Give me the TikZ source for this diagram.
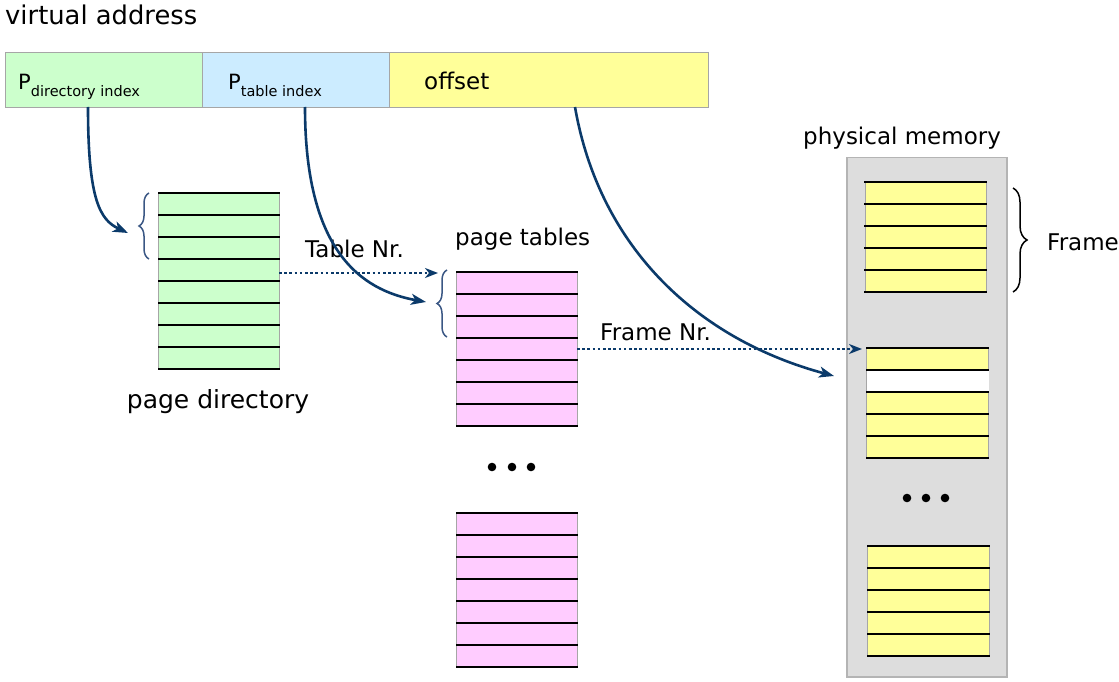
\documentclass[tikz,border=0pt]{standalone}
\usepackage{fontspec}
\setmainfont{DejaVu Sans}
\usetikzlibrary{arrows.meta,decorations.pathreplacing,calc}
\definecolor{cgreen}{HTML}{CCFFCC}
\definecolor{cblue}{HTML}{CCECFF}
\definecolor{cyellow}{HTML}{FFFF99}
\definecolor{cpink}{HTML}{FFCCFF}
\definecolor{cmem}{HTML}{DDDDDD}
\definecolor{cmemborder}{HTML}{B4B4B4}
\definecolor{cborder}{HTML}{A6A6A6}
\definecolor{cnavy}{HTML}{0B3A6A}
\definecolor{cbrace}{HTML}{3A5784}
\begin{document}
\begin{tikzpicture}[x=1pt,y=-1pt,
  lbl/.style={inner sep=0pt, anchor=base west, font=\fontsize{23}{27}\selectfont},
  barcell/.style={draw=cborder, line width=1pt, inner sep=0pt, anchor=north west, minimum height=55pt},
  tbl/.style={draw=cborder, line width=1.3pt, inner sep=0pt, anchor=north west},
  rowline/.style={draw=black, line width=1.5pt},
  arr/.style={draw=cnavy, line width=2.6pt, -{Stealth[length=15pt,width=11pt,inset=4pt]}},
  dotarr/.style={draw=cnavy, line width=2.8pt, dash pattern=on 2.6pt off 2.6pt, -{Stealth[length=13pt,width=10pt,inset=4pt]}},
  bracestyle/.style={decorate, decoration={brace, amplitude=10pt}, line width=1.5pt}
]
\useasboundingbox (0,0) rectangle (1119,682);

% virtual address bar
\node[lbl, font=\fontsize{25.8}{30}\selectfont] (vatitle) at (5,25) {virtual address};
\node[barcell, fill=cgreen, minimum width=197pt] (vd) at (5,52) {};
\node[barcell, fill=cblue, minimum width=187pt] (vt) at (202,52) {};
\node[barcell, fill=cyellow, minimum width=319pt] (vo) at (389,52) {};
\node[lbl, font=\fontsize{21}{25}\selectfont] (pdir) at (18,90) {P\raisebox{-7pt}{\fontsize{14.5}{17}\selectfont directory index}};
\node[lbl, font=\fontsize{21}{25}\selectfont] (ptab) at (228,90) {P\raisebox{-7pt}{\fontsize{14.5}{17}\selectfont table index}};
\node[lbl] (off) at (424,90) {offset};

% page directory
\node[tbl, fill=cgreen, minimum width=121pt, minimum height=176pt] (pd) at (158,193) {};
\foreach \i in {0,...,8} \draw[rowline] ($(pd.north west)+(0,\i*22)$) -- ($(pd.north east)+(0,\i*22)$);
\node[inner sep=0pt, anchor=base, font=\fontsize{25}{29}\selectfont] (pdlbl) at (218,408) {page directory};

% page tables
\node[lbl] (ptlbl) at (455,245) {page tables};
\node[tbl, fill=cpink, minimum width=121pt, minimum height=154pt] (pt1) at (456,272) {};
\foreach \i in {0,...,7} \draw[rowline] ($(pt1.north west)+(0,\i*22)$) -- ($(pt1.north east)+(0,\i*22)$);
\node[tbl, fill=cpink, minimum width=121pt, minimum height=154pt] (pt2) at (456,513) {};
\foreach \i in {0,...,7} \draw[rowline] ($(pt2.north west)+(0,\i*22)$) -- ($(pt2.north east)+(0,\i*22)$);
\foreach \x in {492,512,531} \fill (\x,467) circle (4.3pt);

% physical memory
\node[lbl] (pmlbl) at (803,145) {physical memory};
\node[draw=cmemborder, fill=cmem, line width=1.5pt, inner sep=0pt, anchor=north west, minimum width=160pt, minimum height=519pt] (mem) at (846,157) {};
\node[tbl, fill=cyellow, minimum width=121pt, minimum height=110pt] (f1) at (865,182) {};
\foreach \i in {0,...,5} \draw[rowline] ($(f1.north west)+(-1,\i*22)$) -- ($(f1.north east)+(0,\i*22)$);
\node[tbl, fill=cyellow, minimum width=122pt, minimum height=110pt] (f2) at (866,348) {};
\fill[white] ($(f2.north west)+(0.7,22)$) rectangle ($(f2.north east)+(-0.7,44)$);
\foreach \i in {0,...,5} \draw[rowline] ($(f2.north west)+(0,\i*22)$) -- ($(f2.north east)+(0,\i*22)$);
\node[tbl, fill=cyellow, minimum width=122pt, minimum height=110pt] (f3) at (867,546) {};
\foreach \i in {0,...,5} \draw[rowline] ($(f3.north west)+(0,\i*22)$) -- ($(f3.north east)+(0,\i*22)$);
\foreach \x in {907,926,945} \fill (\x,498) circle (4.3pt);
\node[lbl] (framelbl) at (1047,250) {Frame};

% braces
\draw[bracestyle, draw=cbrace] (149,259) -- (149,193);
\draw[bracestyle, draw=cbrace] (447,337) -- (447,270);
\draw[bracestyle, draw=black, decoration={brace, amplitude=14pt}] (1013,188) -- (1013,292);

% labels on connectors
\node[lbl] (tnr) at (305,257) {Table Nr.};
\node[lbl] (fnr) at (600,340) {Frame Nr.};

% connectors
\coordinate (a1s) at (88,107);
\coordinate (a1e) at (128,233);
\coordinate (a2s) at (305,107);
\coordinate (a2e) at (426,302);
\coordinate (a3s) at (575,107);
\coordinate (a3e) at (834,376);
\coordinate (d1s) at (279,273);
\coordinate (d1e) at (438,273);
\coordinate (d2s) at (577,349);
\coordinate (d2e) at (862,349);
\draw[arr] (a1s) .. controls (88,200) and (100,220) .. (a1e);
\draw[arr] (a2s) .. controls (305,250) and (360,290) .. (a2e);
\draw[arr] (a3s) .. controls (600,250) and (700,340) .. (a3e);
\draw[dotarr] (d1s) -- (d1e);
\draw[dotarr] (d2s) -- (d2e);
\end{tikzpicture}
\end{document}
